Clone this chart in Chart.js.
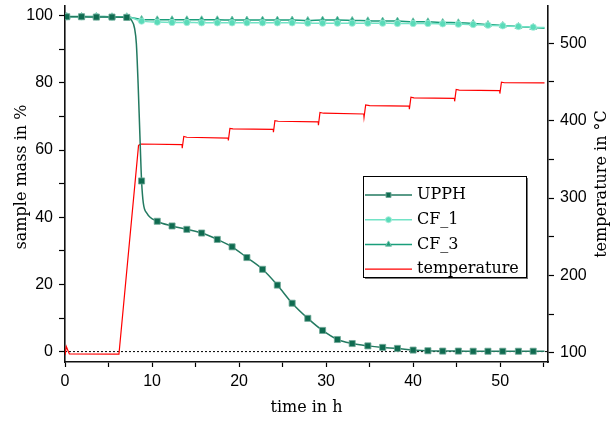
<!DOCTYPE html>
<html>
<head>
<meta charset="utf-8">
<script src="https://cdn.jsdelivr.net/npm/chart.js@4.4.0/dist/chart.umd.min.js"></script>
<style>html,body{margin:0;padding:0;background:#fff}</style>
</head>
<body>
<canvas id="massChart" width="611" height="421"></canvas>
<script>
// times of the marked samples (h), shared by the three mass curves
const sampleTime = [0.2, 1.9, 3.6, 5.4, 7.1, 8.8, 10.6, 12.3, 14.0, 15.7, 17.5, 19.2, 20.9, 22.7, 24.4, 26.1,
  27.9, 29.6, 31.3, 33.0, 34.8, 36.5, 38.2, 40.0, 41.7, 43.4, 45.2, 46.9, 48.6, 50.3, 52.1, 53.8];

// sample mass in % at the marked samples
const upphMass = [99.7, 99.7, 99.6, 99.6, 99.5, 50.8, 38.8, 37.4, 36.4, 35.3, 33.4, 31.2, 28.0, 24.5, 19.8, 14.4,
  9.9, 6.3, 3.6, 2.4, 1.7, 1.25, 0.95, 0.45, 0.25, 0.15, 0.15, 0.1, 0.1, 0.1, 0.1, 0.1];
const cf1Mass = [99.7, 99.7, 99.7, 99.6, 99.6, 98.4, 98.1, 98.0, 98.0, 97.9, 97.9, 97.9, 97.9, 97.9, 97.9, 97.9,
  97.8, 97.8, 97.8, 97.8, 97.8, 97.8, 97.7, 97.7, 97.7, 97.6, 97.5, 97.4, 97.2, 97.0, 96.8, 96.6];
const cf3Mass = [99.8, 99.8, 99.8, 99.7, 99.7, 98.9, 98.8, 98.8, 98.8, 98.8, 98.8, 98.7, 98.7, 98.7, 98.7, 98.7,
  98.6, 98.7, 98.7, 98.6, 98.5, 98.4, 98.4, 98.2, 98.2, 98.0, 97.9, 97.7, 97.4, 97.1, 96.8, 96.5];

// unmarked points of the curves (start, fast drop, end)
const upphExtraTime = [0, 7.6, 8.0, 8.2, 8.4, 8.6, 9.0, 9.4, 55.1];
const upphExtraMass = [99.8, 98.8, 96.2, 91.7, 79.8, 64.9, 44.2, 41.2, 0.1];
const cf1ExtraTime = [0, 7.7, 55.1];
const cf1ExtraMass = [99.7, 99.3, 96.5];
const cf3ExtraTime = [0, 7.7, 55.1];
const cf3ExtraMass = [99.8, 99.4, 96.3];

// oven temperature in °C
const tempTime = [0, 0.15, 0.5, 6.2, 8.45, 8.7, 13.45, 13.47, 13.65, 14.0, 18.75, 18.77, 18.95, 19.3,
  23.93, 23.95, 24.12, 24.5, 29.1, 29.12, 29.3, 29.7, 34.33, 34.36, 34.55, 35.0, 39.55, 39.57, 39.75, 40.1,
  44.75, 44.77, 44.95, 45.3, 49.95, 49.97, 50.15, 50.5, 55.1];
const tempValue = [97, 108, 98.5, 98.3, 368, 369.8, 368.9, 364.3, 379.5, 378.5, 377.3, 374.5, 390, 389.3,
  388.6, 385, 400, 399.2, 398.3, 394, 410.5, 409.6, 408.6, 404.3, 420.2, 419.5, 418.7, 414.8, 430.2, 429.4,
  428.8, 425, 440.3, 439.5, 438.9, 435, 449.6, 449, 448.7];

const timeTicks = [0, 5, 10, 15, 20, 25, 30, 35, 40, 45, 50, 55];
const timeLabels = [0, 10, 20, 30, 40, 50];
const massTicks = [0, 10, 20, 30, 40, 50, 60, 70, 80, 90, 100];
const massLabels = [0, 20, 40, 60, 80, 100];
const tempTicks = [100, 150, 200, 250, 300, 350, 400, 450, 500];
const tempLabels = [100, 200, 300, 400, 500];

function series(values, extraTime, extraValues) {
  const pts = sampleTime.map((t, i) => ({ x: t, y: values[i], mark: true }));
  extraTime.forEach((t, i) => pts.push({ x: t, y: extraValues[i], mark: false }));
  return pts.sort((a, b) => a.x - b.x);
}

const tickFont = { family: '"Liberation Sans", Arial, sans-serif', size: 16 };
const textFont = '16px "DejaVu Serif", serif';

function markRadius(r) {
  return ctx => (ctx.raw && ctx.raw.mark ? r : 0);
}

// legend drawn inside the plot, like the original
const boxLegend = {
  id: 'boxLegend',
  afterDatasetsDraw(chart) {
    const c = chart.ctx;
    const x0 = 363, y0 = 176, w = 163, h = 101;
    c.save();
    c.fillStyle = '#777';
    c.fillRect(x0 + 2, y0 + 2, w, h);
    c.fillStyle = '#fff';
    c.fillRect(x0, y0, w, h);
    c.strokeStyle = '#000';
    c.lineWidth = 1;
    c.strokeRect(x0 + 0.5, y0 + 0.5, w, h);
    chart.data.datasets.slice(0, 4).forEach((ds, i) => {
      const y = 195 + i * 24.7;
      c.strokeStyle = ds.borderColor;
      c.lineWidth = ds.borderWidth;
      c.beginPath();
      c.moveTo(365, y);
      c.lineTo(412, y);
      c.stroke();
      if (ds.legendRadius) {
        c.fillStyle = ds.pointBackgroundColor;
        c.strokeStyle = ds.pointBorderColor;
        c.lineWidth = 1;
        Chart.helpers.drawPoint(c, { pointStyle: ds.pointStyle, radius: ds.legendRadius, rotation: 0, borderWidth: 1 }, 388.5, y);
      }
      c.fillStyle = '#000';
      c.font = textFont;
      c.textBaseline = 'middle';
      c.textAlign = 'left';
      c.fillText(ds.label, 417, y);
    });
    c.restore();
  },
  afterDraw(chart) {
    const c = chart.ctx;
    const mid = (chart.chartArea.top + chart.chartArea.bottom) / 2;
    c.save();
    c.fillStyle = '#000';
    c.font = textFont;
    c.textAlign = 'center';
    c.textBaseline = 'middle';
    c.fillText('time in h', (chart.chartArea.left + chart.chartArea.right) / 2, 408);
    c.translate(22, mid - 7);
    c.rotate(-Math.PI / 2);
    c.fillText('sample mass in %', 0, 0);
    c.restore();
    c.save();
    c.fillStyle = '#000';
    c.font = textFont;
    c.textAlign = 'center';
    c.textBaseline = 'middle';
    c.translate(602, mid);
    c.rotate(-Math.PI / 2);
    c.fillText('temperature in °C', 0, 0);
    c.restore();
  }
};

new Chart(document.getElementById('massChart'), {
  type: 'line',
  data: {
    datasets: [
      {
        label: 'UPPH', data: series(upphMass, upphExtraTime, upphExtraMass), yAxisID: 'y',
        borderColor: '#237a61', borderWidth: 1.5, cubicInterpolationMode: 'monotone',
        pointStyle: 'rect', pointRadius: markRadius(4.3), legendRadius: 3.5,
        pointBackgroundColor: '#0f6b50', pointBorderColor: '#6fa897', pointBorderWidth: 0.8
      },
      {
        label: 'CF_1', data: series(cf1Mass, cf1ExtraTime, cf1ExtraMass), yAxisID: 'y',
        borderColor: '#72e3c6', borderWidth: 1.5, cubicInterpolationMode: 'monotone',
        pointStyle: 'circle', pointRadius: markRadius(3.2), legendRadius: 3,
        pointBackgroundColor: '#5adbb9', pointBorderColor: '#a6eedb', pointBorderWidth: 0.8
      },
      {
        label: 'CF_3', data: series(cf3Mass, cf3ExtraTime, cf3ExtraMass), yAxisID: 'y',
        borderColor: '#1a9e7b', borderWidth: 1.5, cubicInterpolationMode: 'monotone',
        pointStyle: 'triangle', pointRadius: markRadius(4), legendRadius: 3.5,
        pointBackgroundColor: '#1c9b78', pointBorderColor: '#6cc2a9', pointBorderWidth: 0.8
      },
      {
        label: 'temperature', data: tempTime.map((t, i) => ({ x: t, y: tempValue[i] })), yAxisID: 'y2',
        borderColor: '#ff0000', borderWidth: 1.2, tension: 0, pointRadius: 0
      },
      {
        label: 'zero', data: [{ x: 0, y: 0 }, { x: 55.5, y: 0 }], yAxisID: 'y',
        borderColor: '#000', borderWidth: 1, borderDash: [2, 2], pointRadius: 0
      }
    ]
  },
  options: {
    responsive: false,
    animation: false,
    layout: { padding: { top: 6, left: 0, right: 0, bottom: 0 } },
    plugins: { legend: { display: false }, tooltip: { enabled: false } },
    scales: {
      x: {
        type: 'linear', min: 0, max: 55.5,
        afterBuildTicks: s => { s.ticks = timeTicks.map(v => ({ value: v })); },
        afterFit: s => { s.height = 59; s.paddingLeft = 0; s.paddingRight = 0; },
        ticks: {
          autoSkip: false, maxRotation: 0, padding: 5, color: '#000', font: tickFont,
          callback: v => (timeLabels.includes(v) ? String(v) : '')
        },
        grid: { drawOnChartArea: false, tickLength: 5, color: '#000', tickWidth: 1.2 },
        border: { color: '#111', width: 1.6 }
      },
      y: {
        position: 'left', min: -3.1, max: 102.9,
        afterBuildTicks: s => { s.ticks = massTicks.map(v => ({ value: v })); },
        afterFit: s => { s.width = 65; s.paddingTop = 0; s.paddingBottom = 0; },
        ticks: {
          autoSkip: false, padding: 6, color: '#000', font: tickFont,
          callback: v => (massLabels.includes(v) ? String(v) : '')
        },
        grid: { drawOnChartArea: false, tickLength: 6, color: '#000', tickWidth: 1.2 },
        border: { color: '#111', width: 1.6 }
      },
      y2: {
        position: 'right', min: 88, max: 548.2,
        afterBuildTicks: s => { s.ticks = tempTicks.map(v => ({ value: v })); },
        afterFit: s => { s.width = 63; s.paddingTop = 0; s.paddingBottom = 0; },
        ticks: {
          autoSkip: false, padding: 6, color: '#000', font: tickFont,
          callback: v => (tempLabels.includes(v) ? String(v) : '')
        },
        grid: { drawOnChartArea: false, tickLength: 6, color: '#000', tickWidth: 1.2 },
        border: { color: '#111', width: 1.6 }
      }
    }
  },
  plugins: [boxLegend]
});
</script>
</body>
</html>
